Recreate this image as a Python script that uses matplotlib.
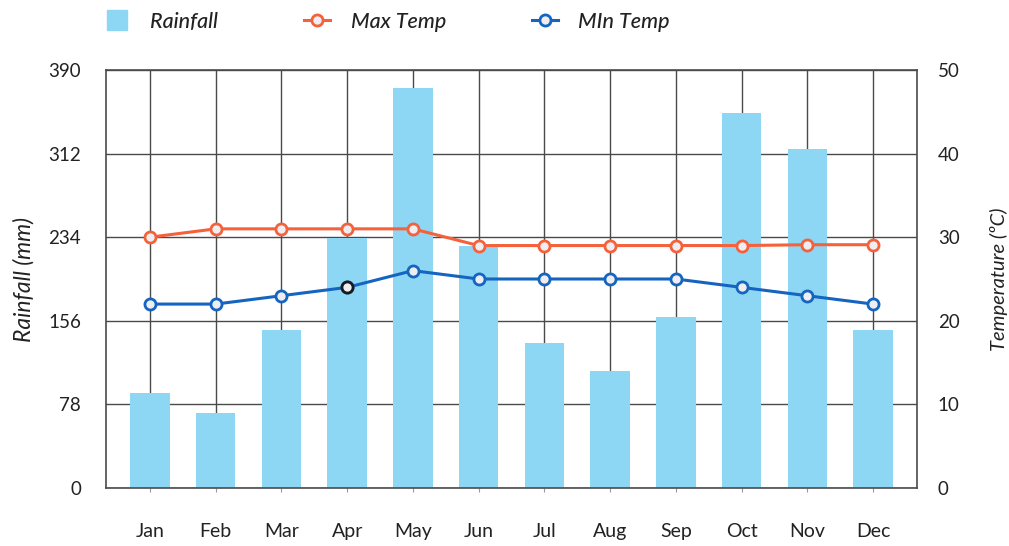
import matplotlib
matplotlib.use("Agg")
import matplotlib.pyplot as plt
from matplotlib.lines import Line2D

months = ["Jan", "Feb", "Mar", "Apr", "May", "Jun",
          "Jul", "Aug", "Sep", "Oct", "Nov", "Dec"]
rainfall = [89, 70, 147, 233, 373, 226, 135, 109, 160, 350, 316, 147]
max_temp = [30, 31, 31, 31, 31, 29, 29, 29, 29, 29, 29.1, 29.1]
min_temp = [22, 22, 23, 24, 26, 25, 25, 25, 25, 24, 23, 22]
rain_ticks = [0, 78, 156, 234, 312, 390]
temp_ticks = [0, 10, 20, 30, 40, 50]

BAR = "#8DD7F5"
ORANGE = "#F5613A"
BLUE = "#1565C0"
FACE = "#EEEEF2"
GRID = "#4a4a4a"
TEXT = "#222222"

plt.rcParams["font.family"] = ["Lato", "DejaVu Sans"]

fig = plt.figure(figsize=(10.09, 5.46), dpi=100)
ax = fig.add_axes([106 / 1009, 1 - 488 / 546, 811 / 1009, 418 / 546])
x = list(range(len(months)))

ax.set_axisbelow(True)
ax.grid(True, color=GRID, linewidth=1.0)
ax.bar(x, rainfall, width=0.6, color=BAR, zorder=2)
ax.set_xlim(-0.67, 11.67)
ax.set_ylim(0, 390)
ax.set_yticks(rain_ticks)
ax.set_xticks(x)
ax.set_xticklabels(months)
ax.tick_params(axis="x", length=3, color="#999999", pad=22, labelsize=14, labelcolor=TEXT)
ax.tick_params(axis="y", length=0, pad=18, labelsize=13.5, labelcolor=TEXT)
ax.set_ylabel("Rainfall (mm)", fontsize=16.5, style="italic", color=TEXT, labelpad=10)
for s in ax.spines.values():
    s.set_color(GRID)
    s.set_linewidth(1.2)

ax2 = ax.twinx()
ax2.set_ylim(0, 50)
ax2.set_yticks(temp_ticks)
ax2.tick_params(axis="y", length=0, pad=15, labelsize=13.5, labelcolor=TEXT)
ax2.set_ylabel("Temperature (ºC)", fontsize=14.5, style="italic", color=TEXT, labelpad=22)
for s in ax2.spines.values():
    s.set_visible(False)

mk = dict(marker="o", markersize=8, markeredgewidth=2.0, markerfacecolor=FACE)
ax2.plot(x, max_temp, color=ORANGE, linewidth=2.2, markeredgecolor=ORANGE, zorder=3, **mk)
ax2.plot(x, min_temp, color=BLUE, linewidth=2.2, markeredgecolor=BLUE, zorder=3, **mk)
# highlighted April point on the minimum series
ax2.plot([x[3]], [min_temp[3]], linestyle="none", marker="o", markersize=8,
         markeredgewidth=2.0, markerfacecolor=FACE, markeredgecolor="#1a1a1a", zorder=4)

handles = [
    Line2D([], [], linestyle="none", marker="s", markersize=14, color=BAR),
    Line2D([], [], color=ORANGE, linewidth=2.2, markeredgecolor=ORANGE, **mk),
    Line2D([], [], color=BLUE, linewidth=2.2, markeredgecolor=BLUE, **mk),
]
leg = fig.legend(handles, ["Rainfall", "Max Temp", "MIn Temp"], loc="center left",
                 bbox_to_anchor=(104 / 1009, 1 - 22 / 546), ncol=3, frameon=False,
                 borderpad=0, borderaxespad=0,
                 handlelength=1.2, handletextpad=0.95,
                 columnspacing=4.0, prop=dict(size=15.5, style="italic", weight="medium"))
for t in leg.get_texts():
    t.set_color(TEXT)

fig.savefig("out.png", dpi=100)
